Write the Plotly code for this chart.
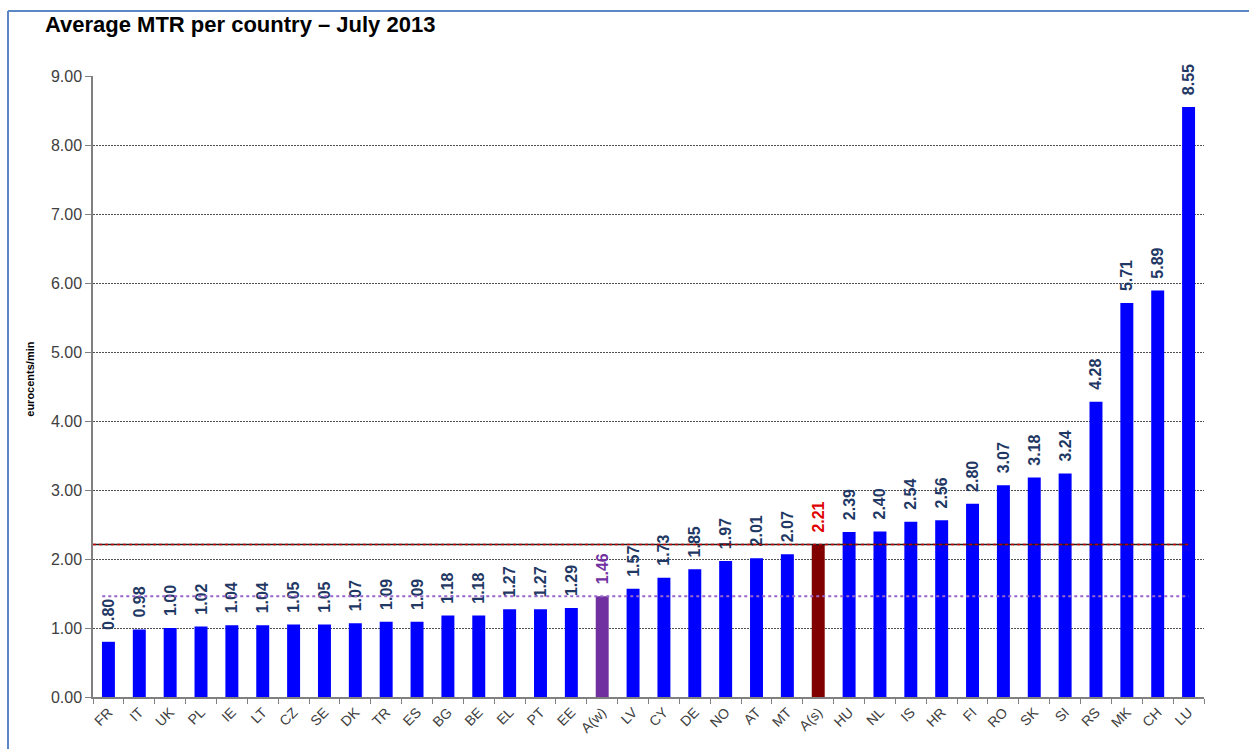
import plotly.graph_objects as go

countries = ["FR", "IT", "UK", "PL", "IE", "LT", "CZ", "SE", "DK", "TR", "ES", "BG", "BE", "EL", "PT", "EE",
             "A(w)", "LV", "CY", "DE", "NO", "AT", "MT", "A(s)", "HU", "NL", "IS", "HR", "FI", "RO", "SK",
             "SI", "RS", "MK", "CH", "LU"]
mtr = [0.80, 0.98, 1.00, 1.02, 1.04, 1.04, 1.05, 1.05, 1.07, 1.09, 1.09, 1.18, 1.18, 1.27, 1.27, 1.29,
       1.46, 1.57, 1.73, 1.85, 1.97, 2.01, 2.07, 2.21, 2.39, 2.40, 2.54, 2.56, 2.80, 3.07, 3.18,
       3.24, 4.28, 5.71, 5.89, 8.55]
avg_weighted = 1.46
avg_simple = 2.21
y_ticks = [0, 1, 2, 3, 4, 5, 6, 7, 8, 9]

FONT = "Liberation Sans, Arial, sans-serif"

bar_colors = []
text_colors = []
for c in countries:
    if c == "A(w)":
        bar_colors.append("#7030A0"); text_colors.append("#7030A0")
    elif c == "A(s)":
        bar_colors.append("#800000"); text_colors.append("#E00000")
    else:
        bar_colors.append("#0000FF"); text_colors.append("#1F3864")

fig = go.Figure()
fig.add_trace(go.Bar(
    x=countries, y=mtr,
    marker=dict(color=bar_colors, line=dict(width=0)),
    width=0.42,
    text=["\u00a0\u00a0" + f"{v:.2f}" for v in mtr],
    textposition="outside",
    textangle=-90,
    constraintext="none",
    cliponaxis=False,
    textfont=dict(family=FONT, size=16, color=text_colors, weight="bold"),
    hoverinfo="x+y",
))

n = len(countries)
# simple average line (dark solid + red dotted overlay)
fig.add_shape(type="line", xref="x", yref="y", x0=-0.5, x1=n - 1, y0=avg_simple, y1=avg_simple,
              line=dict(color="#202020", width=1.5))
fig.add_shape(type="line", xref="x", yref="y", x0=-0.5, x1=n - 1, y0=avg_simple, y1=avg_simple,
              line=dict(color="#C00000", width=1.5, dash="dot"))
# weighted average line
fig.add_shape(type="line", xref="x", yref="y", x0=-0.2, x1=n - 1, y0=avg_weighted, y1=avg_weighted,
              line=dict(color="#9966CC", width=2, dash="dot"))

# slide frame
fig.add_shape(type="line", xref="paper", yref="paper", x0=-0.0765, x1=-0.0765, y0=-0.2, y1=1.1047,
              line=dict(color="#5B87C5", width=2))
fig.add_shape(type="line", xref="paper", yref="paper", x0=-0.0765, x1=1.1, y0=1.1047, y1=1.1047,
              line=dict(color="#5B87C5", width=2))

fig.add_annotation(text="<b>eurocents/min</b>", xref="paper", yref="paper", x=-0.057, y=0.512,
                   textangle=-90, showarrow=False, font=dict(family=FONT, size=11, color="#000000"),
                   xanchor="center", yanchor="middle")

fig.update_layout(
    width=1249, height=749,
    margin=dict(l=93, r=45, t=76, b=52),
    paper_bgcolor="white", plot_bgcolor="white",
    showlegend=False,
    title=dict(text="<b>Average MTR per country – July 2013</b>", x=0.036, xref="container", xanchor="left",
               y=0.967, yref="container", yanchor="middle",
               font=dict(family=FONT, size=22, color="#000000")),
    font=dict(family=FONT),
)
fig.update_xaxes(
    type="category", tickangle=-45, tickson="boundaries", ticks="outside", ticklen=5,
    tickcolor="#808080", showline=True, linecolor="#808080", linewidth=1.5,
    tickfont=dict(family=FONT, size=14, color="#404040"), showgrid=False,
    range=[-0.5, n - 0.5],
)
fig.update_yaxes(
    range=[0, 9], tickvals=y_ticks, tickformat=".2f", ticks="outside", ticklen=6,
    tickcolor="#808080", showline=True, linecolor="#808080", linewidth=1.5,
    showgrid=True, gridcolor="#505050", griddash="2px,1px", gridwidth=1, zeroline=False,
    tickfont=dict(family=FONT, size=16, color="#404040"),
)

fig.write_html("out.html", config={"displayModeBar": False},
               post_script="document.body.style.margin='0px';")
